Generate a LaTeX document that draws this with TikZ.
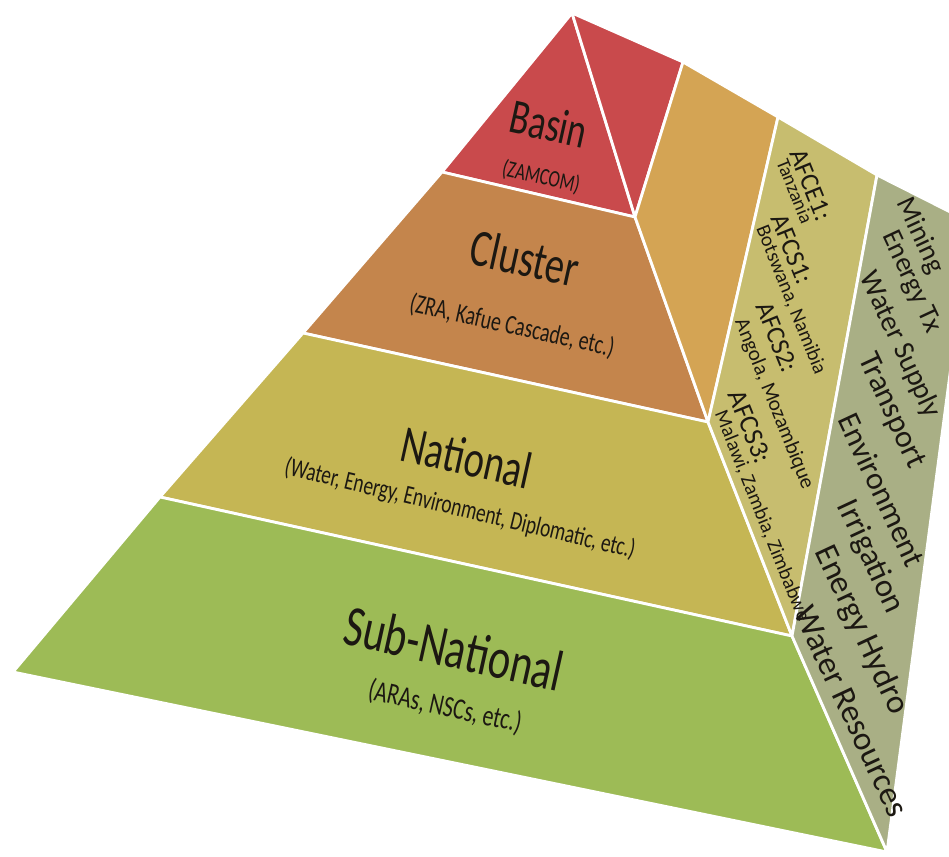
\documentclass[tikz,border=0pt]{standalone}
\usepackage{fontspec}
\setmainfont{Carlito}
\definecolor{basinred}{RGB}{201,74,76}
\definecolor{clusterbrown}{RGB}{196,133,76}
\definecolor{sideorange}{RGB}{212,164,84}
\definecolor{nationalolive}{RGB}{197,182,84}
\definecolor{afcolive}{RGB}{199,189,111}
\definecolor{subgreen}{RGB}{157,187,86}
\definecolor{sectorgrey}{RGB}{169,175,133}
\definecolor{ink}{RGB}{28,24,18}
\newcommand{\squeezed}[1]{\scalebox{0.73}[1]{#1}}

\begin{document}
\begin{tikzpicture}[x=0.02cm, y=-0.02cm,
		face/.style={draw=white, line width=1.6pt, line join=round},
		tier/.style={rotate=-12.5, text=ink, inner sep=0pt, font=\fontsize{#1}{#1}\selectfont},
		afc/.style={rotate=-68, text=ink, inner sep=0pt, font=\fontsize{#1}{#1}\selectfont},
		sector/.style={rotate=-65, text=ink, inner sep=0pt, font=\fontsize{#1}{#1}\selectfont}]
	\useasboundingbox (0,0) rectangle (949,856);
	\clip (0,0) rectangle (949,856);
	% front face
	\coordinate (A) at (572,13);
	\coordinate (L1) at (442,172);
	\coordinate (L2) at (303,333);
	\coordinate (L3) at (160,497);
	\coordinate (L4) at (13,672);
	\coordinate (R1) at (635,217);
	\coordinate (R2) at (708,422);
	\coordinate (R3) at (792,636);
	\coordinate (R4) at (887,852);
	% right face
	\coordinate (T1) at (683,62);
	\coordinate (T2) at (778,117);
	\coordinate (T3) at (877,175);
	\coordinate (T4) at (970,222);

	\draw[face, fill=basinred] (A) -- (L1) -- (R1) -- cycle;
	\draw[face, fill=clusterbrown] (L1) -- (L2) -- (R2) -- (R1) -- cycle;
	\draw[face, fill=nationalolive] (L2) -- (L3) -- (R3) -- (R2) -- cycle;
	\draw[face, fill=subgreen] (L3) -- (L4) -- (R4) -- (R3) -- cycle;

	\draw[face, fill=basinred] (A) -- (T1) -- (R1) -- cycle;
	\draw[face, fill=sideorange] (T1) -- (T2) -- (R2) -- (R1) -- cycle;
	\draw[face, fill=afcolive] (T2) -- (T3) -- (R3) -- (R2) -- cycle;
	\draw[face, fill=sectorgrey] (T3) -- (T4) -- (R4) -- (R3) -- cycle;

	\node[tier=28] (basin) at (549,124) {\squeezed{Basin}};
	\node[tier=13.5] (basinnote) at (541,177) {\squeezed{(ZAMCOM)}};
	\node[tier=30] (cluster) at (525,258) {\squeezed{Cluster}};
	\node[tier=15.5] (clusternote) at (512,326) {\squeezed{(ZRA, Kafue Cascade, etc.)}};
	\node[tier=30] (national) at (467,457) {\squeezed{National}};
	\node[tier=15, rotate=-1] (nationalnote) at (460,509) {\squeezed{(Water, Energy, Environment,\ Diplomatic, etc.)}};
	\node[tier=33] (subnational) at (454,648) {\squeezed{Sub-National}};
	\node[tier=17] (subnote) at (445,707) {\squeezed{(ARAs, NSCs, etc.)}};

	\node[afc=15] (afce1) at (811,185) {AFCE1:};
	\node[afc=11] (afce1note) at (795,191) {Tanzania};
	\node[afc=15] (afcs1) at (792,249) {AFCS1:};
	\node[afc=11.5] (afcs1note) at (791,300) {Botswana, Namibia};
	\node[afc=15] (afcs2) at (777,337) {AFCS2:};
	\node[afc=12] (afcs2note) at (774,404) {Angola, Mozambique};
	\node[afc=15.5] (afcs3) at (750,427) {AFCS3:};
	\node[afc=11.5] (afcs3note) at (762,516) {Malawi, Zambia, Zimbabwe};

	\foreach \x/\y/\fs/\word [count=\i] in {920/236/16/Mining, 911/282/16/Energy Tx, 900/345/16.5/Water Supply,
			891/411/18/Transport, 882/490/18/Environment, 870/557/18.5/Irrigation,
			861/630/19/Energy Hydro, 851/711/19/Water Resources} {
		\node[sector=\fs] (sector\i) at (\x,\y) {\word};
	}
\end{tikzpicture}
\end{document}
